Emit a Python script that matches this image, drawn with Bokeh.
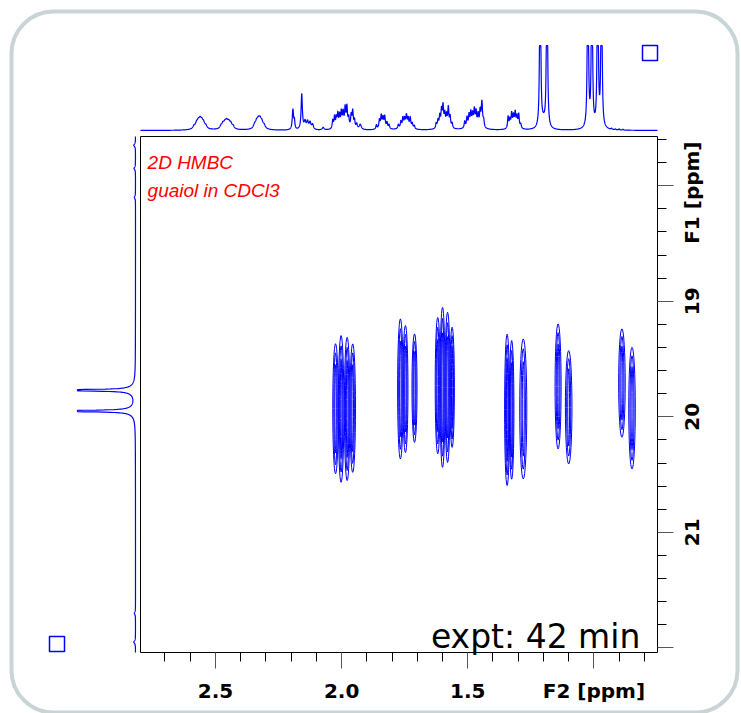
import math
import numpy as np
from bokeh.plotting import figure
from bokeh.models import Range1d, FixedTicker, PrintfTickFormatter
from bokeh.core.properties import value
from bokeh.embed import file_html
from bokeh.resources import INLINE

# ---------------- data ----------------
f2_limits = [2.797, 0.748]          # F2 [ppm], left -> right edge of 2D panel
f1_limits = [22.04, 17.574]         # F1 [ppm], bottom -> top edge of 2D panel

# 1D 1H projection (top): line positions [ppm], heights (1 = clip level), half widths [ppm]
top_ppm = [2.585, 2.575, 2.568, 2.561, 2.554, 2.547, 2.538, 2.560,
           2.478, 2.470, 2.462, 2.455, 2.447, 2.439, 2.430, 2.455,
           2.345, 2.337, 2.330, 2.323, 2.316, 2.307, 2.326,
           2.193, 2.187, 2.158, 2.145, 2.135, 2.125, 2.115, 2.073,
           2.035, 2.028, 2.021, 2.015, 2.008, 2.001, 1.994, 1.986, 1.979,
           1.972, 1.962, 1.956, 1.949, 1.940, 1.926, 1.990,
           1.862, 1.850, 1.843, 1.836, 1.829, 1.820, 1.812, 1.835,
           1.775, 1.765, 1.757, 1.750, 1.743, 1.736, 1.728, 1.720, 1.712, 1.745,
           1.625, 1.618, 1.611, 1.604, 1.598, 1.591, 1.584, 1.577, 1.570, 1.562, 1.595,
           1.512, 1.503, 1.495, 1.488, 1.481, 1.474, 1.467, 1.459, 1.451, 1.444,
           1.437, 1.475,
           1.340, 1.333, 1.326, 1.319, 1.312, 1.305, 1.298, 1.290, 1.315,
           1.213, 1.186, 1.200,
           1.024, 1.008, 0.985, 0.970,
           0.930, 0.915, 0.900, 0.885]
top_height = [0.03, 0.05, 0.06, 0.07, 0.06, 0.05, 0.03, 0.04,
              0.03, 0.05, 0.05, 0.06, 0.055, 0.05, 0.03, 0.035,
              0.04, 0.06, 0.07, 0.07, 0.055, 0.035, 0.045,
              0.24, 0.10, 0.42, 0.09, 0.09, 0.08, 0.06, 0.03,
              0.10, 0.14, 0.12, 0.16, 0.14, 0.17, 0.16, 0.21, 0.23,
              0.11, 0.15, 0.20, 0.10, 0.06, 0.06, 0.04,
              0.05, 0.10, 0.14, 0.11, 0.13, 0.07, 0.05, 0.03,
              0.05, 0.08, 0.11, 0.09, 0.13, 0.10, 0.12, 0.06, 0.04, 0.04,
              0.06, 0.09, 0.13, 0.19, 0.23, 0.14, 0.13, 0.23, 0.13, 0.06, 0.04,
              0.08, 0.12, 0.14, 0.16, 0.13, 0.18, 0.16, 0.14, 0.18, 0.30,
              0.08, 0.05,
              0.14, 0.10, 0.16, 0.12, 0.16, 0.12, 0.16, 0.05, 0.04,
              3.0, 3.0, 0.08,
              3.0, 3.0, 3.0, 3.0,
              0.012, 0.01, 0.012, 0.01]
top_width = [0.005, 0.005, 0.005, 0.005, 0.005, 0.005, 0.005, 0.02,
             0.005, 0.005, 0.005, 0.005, 0.005, 0.005, 0.005, 0.02,
             0.005, 0.005, 0.005, 0.005, 0.005, 0.005, 0.018,
             0.003, 0.002, 0.003, 0.004, 0.004, 0.004, 0.004, 0.004,
             0.0025, 0.0025, 0.0025, 0.0025, 0.0025, 0.0025, 0.0025, 0.0025, 0.0025,
             0.0025, 0.0025, 0.0025, 0.0025, 0.003, 0.005, 0.02,
             0.0025, 0.0025, 0.0025, 0.0025, 0.0025, 0.0025, 0.0025, 0.015,
             0.0025, 0.0025, 0.0025, 0.0025, 0.0025, 0.0025, 0.0025, 0.0025, 0.0025, 0.02,
             0.0025, 0.0025, 0.0025, 0.0025, 0.0025, 0.0025, 0.0025, 0.0025, 0.0025, 0.0025, 0.02,
             0.0025, 0.0025, 0.0025, 0.0025, 0.0025, 0.0025, 0.0025, 0.0025, 0.0025, 0.003,
             0.0025, 0.025,
             0.0025, 0.0025, 0.0025, 0.0025, 0.0025, 0.0025, 0.0025, 0.0025, 0.015,
             0.002, 0.002, 0.010,
             0.002, 0.002, 0.002, 0.002,
             0.002, 0.002, 0.002, 0.002]

# 1D 13C projection (left)
left_ppm = [17.65, 17.85, 18.10, 19.77, 19.95, 19.77, 19.95, 21.70, 21.95]
left_height = [0.03, 0.025, 0.02, 3.0, 3.0, 0.10, 0.10, 0.02, 0.03]
left_width = [0.012, 0.012, 0.012, 0.004, 0.004, 0.04, 0.04, 0.012, 0.012]

# HMBC cross-peak components: centre F2, centre F1, extent F2, extent F1 [ppm]
cp_x = [2.024, 2.002, 1.978, 1.956,
        1.767, 1.747, 1.711,
        1.619, 1.600, 1.580, 1.562,
        1.344, 1.326, 1.280,
        1.142, 1.100,
        0.889, 0.849]
cp_y = [19.930, 19.932, 19.932, 19.925,
        19.759, 19.760, 19.752,
        19.730, 19.745, 19.745, 19.745,
        19.940, 19.940, 19.932,
        19.737, 19.918,
        19.708, 19.925]
cp_w = [0.022, 0.022, 0.022, 0.022,
        0.022, 0.020, 0.020,
        0.020, 0.020, 0.020, 0.018,
        0.020, 0.018, 0.028,
        0.024, 0.026,
        0.026, 0.026]
cp_h = [1.125, 1.270, 1.240, 1.112,
        1.213, 1.100, 0.939,
        1.180, 1.385, 1.300, 1.040,
        1.310, 1.200, 1.212,
        1.082, 0.981,
        0.938, 1.053]

# axis ticks and labels
f2_major = [2.5, 2.0, 1.5, 1.0]
f2_minor = [2.7, 2.6, 2.4, 2.3, 2.2, 2.1, 1.9, 1.8, 1.7, 1.6,
            1.4, 1.3, 1.2, 1.1, 0.9, 0.8]
f2_tick_labels = {1: "F2 [ppm]"}
f1_major = [18, 19, 20, 21, 22]
f1_minor = [17.6, 17.8, 18.2, 18.4, 18.6, 18.8, 19.2, 19.4, 19.6, 19.8,
            20.2, 20.4, 20.6, 20.8, 21.2, 21.4, 21.6, 21.8]
f1_label_pos = [18.06, 19, 20, 21]
f1_label_text = ["F1 [ppm]", "19", "20", "21"]
title_lines = ["2D HMBC", "guaiol in CDCl3"]
note_text = "expt: 42 min"

# ---------------- layout constants (canvas pixels) ----------------
W, H = 741, 713
FRAME_L, FRAME_R, FRAME_T, FRAME_B = 140, 657, 136, 652   # 2D panel
TOP_BASE, TOP_SCALE = 130, 85       # baseline y, px per unit
LEFT_BASE, LEFT_SCALE = 135, 58     # baseline x, px per unit
BLUE = "#0000ff"
AX_FONT = "DejaVu Sans"

kx = (f2_limits[0] - f2_limits[1]) / (FRAME_R - FRAME_L)
ky = (f1_limits[0] - f1_limits[1]) / (FRAME_B - FRAME_T)
x_range = Range1d(f2_limits[0] + FRAME_L * kx, f2_limits[1] - (W - FRAME_R) * kx)
y_range = Range1d(f1_limits[0] + (H - FRAME_B) * ky, f1_limits[1] - FRAME_T * ky)


def lorentz_sum(grid, pos, hgt, wid):
    s = np.zeros_like(grid)
    for p0, hh, ww in zip(pos, hgt, wid):
        s += hh / (1.0 + ((grid - p0) / ww) ** 2)
    return s


p = figure(width=W, height=H, output_backend="svg", toolbar_location=None,
           x_range=x_range, y_range=y_range,
           y_axis_location="right", x_axis_location="below", min_border=0,
           background_fill_color="white", border_fill_color="white")
p.grid.grid_line_color = None
p.outline_line_color = None

p.extra_y_ranges = {"top": Range1d((TOP_BASE - H) / TOP_SCALE, TOP_BASE / TOP_SCALE),
                    "py": Range1d(H, 0)}
p.extra_x_ranges = {"left": Range1d(LEFT_BASE / LEFT_SCALE, (LEFT_BASE - W) / LEFT_SCALE),
                    "px": Range1d(0, W)}

# axes, pinned to the edges of the 2D panel
xa = p.xaxis[0]
xa.fixed_location = f1_limits[0]
xa.ticker = FixedTicker(ticks=f2_major, minor_ticks=f2_minor)
xa.formatter = PrintfTickFormatter(format="%.1f")
xa.major_label_overrides = f2_tick_labels
ya = p.yaxis[0]
ya.fixed_location = f2_limits[1]
ya.ticker = FixedTicker(ticks=f1_major, minor_ticks=f1_minor)
ya.major_label_overrides = {t: "" for t in f1_major}
for ax in (xa, ya):
    ax.axis_line_color = None
    ax.major_tick_in = 0
    ax.minor_tick_in = 0
    ax.major_tick_out = 16
    ax.minor_tick_out = 9
    ax.major_tick_line_color = "#555555"
    ax.minor_tick_line_color = "black"
    ax.major_label_text_font = AX_FONT
    ax.major_label_text_font_style = "bold"
    ax.major_label_text_font_size = "20px"
    ax.major_label_text_color = "black"
xa.major_label_standoff = 10

# F1 tick labels, rotated, centred on their ticks
p.text(x=[f2_limits[1] - 0.138] * len(f1_label_pos), y=f1_label_pos,
       text=f1_label_text, angle=math.pi / 2, text_align="center",
       text_baseline="middle", text_font=value(AX_FONT),
       text_font_style=value("bold"), text_font_size=value("20px"),
       text_color="black")

# 2D panel frame
p.quad(left=[f2_limits[0]], right=[f2_limits[1]], top=[f1_limits[1]],
       bottom=[f1_limits[0]], fill_color=None, line_color="black", line_width=1)

# contours (nested levels of each cross-peak component)
level_w = [1.0, 0.62, 0.28]
level_h = [1.0, 0.86, 0.68]
for fw, fh in zip(level_w, level_h):
    p.ellipse(x=cp_x, y=cp_y, width=[w * fw for w in cp_w],
              height=[h * fh for h in cp_h], fill_color=None,
              line_color=BLUE, line_width=1)

# top projection
gx = np.linspace(f2_limits[0], f2_limits[1], 3000)
gy = np.minimum(lorentz_sum(gx, top_ppm, top_height, top_width), 1.0)
p.line(gx, gy, y_range_name="top", line_color=BLUE, line_width=1.2)

# left projection
ly = np.linspace(f1_limits[0], f1_limits[1], 3000)
lx = np.minimum(lorentz_sum(ly, left_ppm, left_height, left_width), 1.0)
p.line(lx, ly, x_range_name="left", line_color=BLUE, line_width=1.2)

# texts
p.text(x=[2.769, 2.769], y=[17.799, 18.042], text=title_lines, text_color="red",
       text_font=value("Liberation Sans"), text_font_style=value("italic"),
       text_font_size=value("19px"), text_baseline="alphabetic")
p.text(x=[0.816], y=[21.903], text=[note_text], text_color="black",
       text_font=value("DejaVu Sans"), text_font_size=value("33px"),
       text_align="right", text_baseline="alphabetic")

# decorations (canvas pixel coordinates): rounded panel border, toggle squares
p.quad(left=[11], right=[737], top=[11], bottom=[712], x_range_name="px",
       y_range_name="py", fill_color=None, line_color="#c9d4d7", line_width=4,
       border_radius=42)
p.quad(left=[642, 49], right=[657, 64], top=[45, 636], bottom=[60, 651],
       x_range_name="px", y_range_name="py", fill_color=None,
       line_color=BLUE, line_width=1.5)

open("out.html", "w").write(file_html(p, INLINE))
